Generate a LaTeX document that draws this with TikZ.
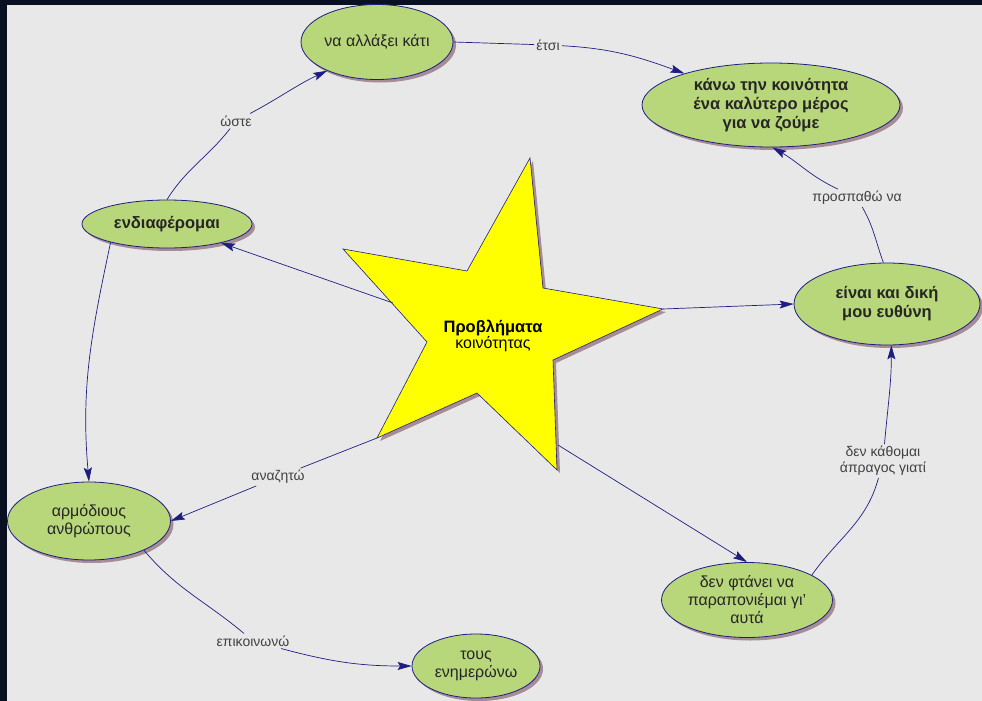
\documentclass[tikz,border=0pt]{standalone}
\usepackage{fontspec}
\setmainfont{Liberation Sans}
\usetikzlibrary{shapes.geometric,arrows.meta,shadows}

\definecolor{framec}{RGB}{8,16,34}
\definecolor{bgc}{RGB}{232,232,232}
\definecolor{conceptc}{RGB}{184,214,122}
\definecolor{navyc}{RGB}{30,30,130}
\definecolor{shadowc}{RGB}{165,140,150}
\definecolor{starc}{RGB}{255,255,0}

\begin{document}
\begin{tikzpicture}[x=1pt, y=-1pt,
  concept/.style={ellipse, draw=navyc, line width=0.8pt, fill=conceptc, align=center, inner sep=0pt,
    font=\fontsize{16}{18}\selectfont, text=black!85,
    general shadow={fill=shadowc, shadow xshift=3pt, shadow yshift=-3pt}},
  keyc/.style={concept, font=\fontsize{16.5}{19}\selectfont\bfseries},
  label/.style={font=\fontsize{14}{16}\selectfont, text=black!75, align=center, inner sep=2pt},
  link/.style={draw=navyc, line width=0.7pt},
  arrow/.style={link, -{Stealth[length=14pt, width=8pt, inset=2.5pt]}},
]

% background and frame
\useasboundingbox (0,0) rectangle (982,701);
\fill[framec] (0,0) rectangle (982,701);
\fill[bgc] (7,5) rectangle (982,701);

% === star ===
\draw[navyc, line width=0.6pt, fill=starc,
  general shadow={fill=shadowc, shadow xshift=3pt, shadow yshift=-3pt}]
  (530,158) -- (543,288) -- (663,309) -- (553,360) -- (557,470) -- (477,393)
  -- (377,438) -- (427,342) -- (343,249) -- (467,271) -- cycle;
\node[align=center, inner sep=0pt] (star) at (493,336)
  {{\fontsize{16.5}{18}\selectfont\bfseries Προβλήματα}\\{\fontsize{16}{18}\selectfont κοινότητας}};
\coordinate (stL) at (393,303);
\coordinate (stR) at (663,309);
\coordinate (stBL) at (377,438);
\coordinate (stBR) at (558,445);

% === concepts ===
\node[concept, minimum width=152pt, minimum height=75pt] (allaxei) at (377,42) {να αλλάξει κάτι};
\node[keyc, minimum width=258pt, minimum height=84pt] (kanw) at (771,105)
  {κάνω την κοινότητα\\ένα καλύτερο μέρος\\για να ζούμε};
\node[keyc, minimum width=186pt, minimum height=82pt] (eina) at (887,304) {είναι και δική\\μου ευθύνη};
\node[keyc, minimum width=170pt, minimum height=48pt] (ind) at (167,224) {ενδιαφέρομαι};
\node[concept, minimum width=163pt, minimum height=78pt] (arm) at (89,521) {αρμόδιους\\ανθρώπους};
\node[concept, minimum width=128pt, minimum height=64pt] (tous) at (476,666) {τους\\ενημερώνω};
\node[concept, minimum width=171pt, minimum height=75pt] (fta) at (747,600)
  {δεν φτάνει να\\παραπονιέμαι γι'\\αυτά};

% === link labels ===
\node[label] (woste) at (236,121) {ώστε};
\node[label] (etsi) at (548,45) {έτσι};
\node[label] (prosp) at (857,198) {προσπαθώ να};
\node[label] (denk) at (883,461) {δεν κάθομαι\\άπραγος γιατί};
\node[label] (anaz) at (278,477) {αναζητώ};
\node[label] (epik) at (253,641) {επικοινωνώ};

% === links ===
\draw[link] (ind.north) to[out=58, in=232] (woste);
\draw[arrow] (woste) to[out=28, in=205] (allaxei.210);
\draw[link] (allaxei.east) -- (etsi);
\draw[arrow] (etsi) to[out=-3, in=160] (kanw.160);
\draw[link] (eina.95) to[out=110, in=300] (prosp);
\draw[arrow] (prosp) to[out=155, in=330] (kanw.-88);
\draw[arrow] (stR) -- (eina.west);
\draw[arrow] (stL) -- (ind);
\draw[link] (stBL) -- (anaz);
\draw[arrow] (anaz) -- (arm.east);
\draw[arrow] (stBR) -- (fta.north);
\draw[link] (fta.21) to[out=55, in=255] (denk);
\draw[arrow] (denk) to[out=85, in=270] (eina.-84);
\draw[arrow] (ind.198) to[out=258, in=95] (arm.north);
\draw[link] (arm.-28) to[out=-50, in=140] (epik);
\draw[arrow] (epik) to[out=-15, in=180] (tous.west);

\end{tikzpicture}
\end{document}
